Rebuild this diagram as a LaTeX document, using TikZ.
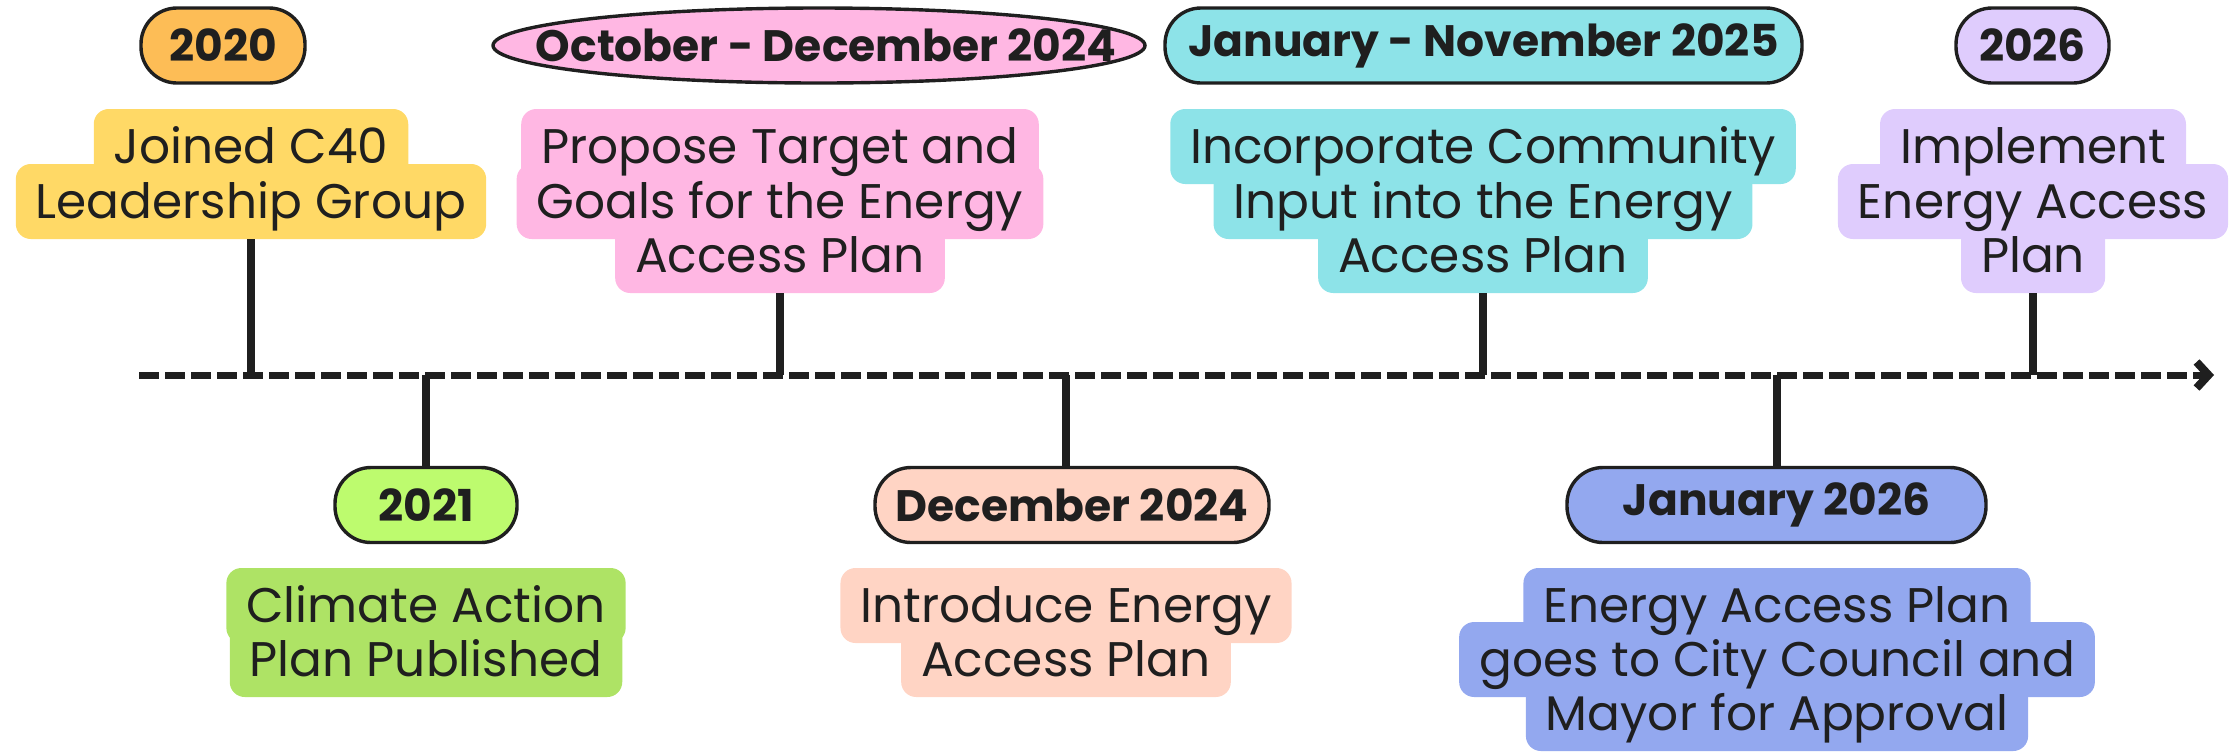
\documentclass[tikz,border=0pt]{standalone}
\usepackage{fontspec}
\setmainfont{Poppins}
\usetikzlibrary{shapes.geometric,arrows.meta}
\definecolor{txt}{HTML}{1F1F1F}
\definecolor{corange}{HTML}{FDBD56}
\definecolor{cyellow}{HTML}{FFD966}
\definecolor{cpink}{HTML}{FFB7E3}
\definecolor{ccyan}{HTML}{8DE3E8}
\definecolor{clav}{HTML}{DFCCFD}
\definecolor{cgreenp}{HTML}{BDFB6E}
\definecolor{cgreen}{HTML}{AEE365}
\definecolor{cpeach}{HTML}{FFD4C4}
\definecolor{cblue}{HTML}{93A8EF}
\tikzset{
  hlbox/.style={fill=#1, draw=none, rounded corners=7.5pt, inner xsep=10pt, inner ysep=0pt,
    text height=27pt, text depth=10.5pt, anchor=base, font=\fontsize{24.3}{29}\selectfont},
  hltxt/.style={inner sep=0pt, anchor=base, text=txt, font=\fontsize{24.3}{29}\selectfont},
  pill/.style={draw=txt, line width=1.7pt, fill=#1, rounded corners=18pt, minimum height=37.5pt,
    inner sep=0pt, text=txt, font=\bfseries\fontsize{22}{26}\selectfont},
  oval/.style={ellipse, draw=txt, line width=1.7pt, fill=#1, inner sep=0pt},
  hdtxt/.style={inner sep=0pt, text=txt, font=\bfseries\fontsize{22}{26}\selectfont},
  stem/.style={draw=txt, line width=4.3pt},
  timeline/.style={draw=txt, line width=3.5pt, dash pattern=on 10pt off 3pt,
    -{Straight Barb[length=6pt,width=13pt,line width=4pt]}},
}
\newcommand\hlrow[5]{\node[hlbox=#2] (#1) at (#3,#4) {\phantom{#5}};}
\newcommand\hltext[2]{\node[hltxt] (#1t) at (#1.base) {#2};}
\begin{document}
\begin{tikzpicture}[x=0.5pt,y=-0.5pt]
\useasboundingbox (0,0) rectangle (2237,751);
% timeline
\coordinate (tls) at (139,375);
\coordinate (tle) at (2214,375);
% ---- header pills (top)
\node[pill=corange, minimum width=82pt] (h2020) at (223,45.5) {2020};
\node[oval=cpink, minimum width=326pt, minimum height=37.5pt] (hoct) at (819,45.5) {};
\node[hdtxt] (hoctt) at (826,45.5) {October - December 2024};
\node[pill=ccyan, minimum width=318.5pt] (hjan) at (1483.5,45.5) {January - November 2025};
\node[pill=clav, minimum width=76.5pt] (h2026) at (2032.5,45.5) {2026};
% ---- header pills (bottom)
\node[pill=cgreenp, minimum width=91pt] (h2021) at (426,505) {2021};
\node[pill=cpeach, minimum width=197pt] (hdec) at (1072,505) {December 2024};
\node[pill=cblue, minimum width=209.5pt] (hj26) at (1776.5,505) {January 2026};
% ---- highlight boxes (fills)
\hlrow{ya}{cyellow}{251}{163}{Joined C40}
\hlrow{yb}{cyellow}{251}{218}{Leadership Group}
\hlrow{pa}{cpink}{780}{163}{Propose Target and}
\hlrow{pb}{cpink}{780}{218}{Goals for the Energy}
\hlrow{pc}{cpink}{780}{272}{Access Plan}
\hlrow{ca}{ccyan}{1483}{163}{Incorporate Community}
\hlrow{cb}{ccyan}{1483}{218}{Input into the Energy}
\hlrow{cc}{ccyan}{1483}{272}{Access Plan}
\hlrow{la}{clav}{2033}{163}{Implement}
\hlrow{lb}{clav}{2033}{218}{Energy Access}
\hlrow{lc}{clav}{2033}{272}{Plan}
\hlrow{ga}{cgreen}{426}{622}{Climate Action}
\hlrow{gb}{cgreen}{426}{676}{Plan Published}
\hlrow{ea}{cpeach}{1066}{622}{Introduce Energy}
\hlrow{eb}{cpeach}{1066}{676}{Access Plan}
\hlrow{ba}{cblue}{1777}{622}{Energy Access Plan}
\hlrow{bb}{cblue}{1777}{676}{goes to City Council and}
\hlrow{bc}{cblue}{1777}{730}{Mayor for Approval}
% ---- texts
\hltext{ya}{Joined C40}
\hltext{yb}{Leadership Group}
\hltext{pa}{Propose Target and}
\hltext{pb}{Goals for the Energy}
\hltext{pc}{Access Plan}
\hltext{ca}{Incorporate Community}
\hltext{cb}{Input into the Energy}
\hltext{cc}{Access Plan}
\hltext{la}{Implement}
\hltext{lb}{Energy Access}
\hltext{lc}{Plan}
\hltext{ga}{Climate Action}
\hltext{gb}{Plan Published}
\hltext{ea}{Introduce Energy}
\hltext{eb}{Access Plan}
\hltext{ba}{Energy Access Plan}
\hltext{bb}{goes to City Council and}
\hltext{bc}{Mayor for Approval}
% ---- stems
\draw[stem] (yb.south) -- (yb.south |- tls);
\draw[stem] (pc.south) -- (pc.south |- tls);
\draw[stem] (cc.south) -- (cc.south |- tls);
\draw[stem] (lc.south) -- (lc.south |- tls);
\draw[stem] (ga.north |- tls) -- (ga.north |- h2021.north);
\draw[stem] (ea.north |- tls) -- (ea.north |- hdec.north);
\draw[stem] (ba.north |- tls) -- (ba.north |- hj26.north);
% ---- timeline
\draw[timeline] (tls) -- (tle);
\end{tikzpicture}
\end{document}
